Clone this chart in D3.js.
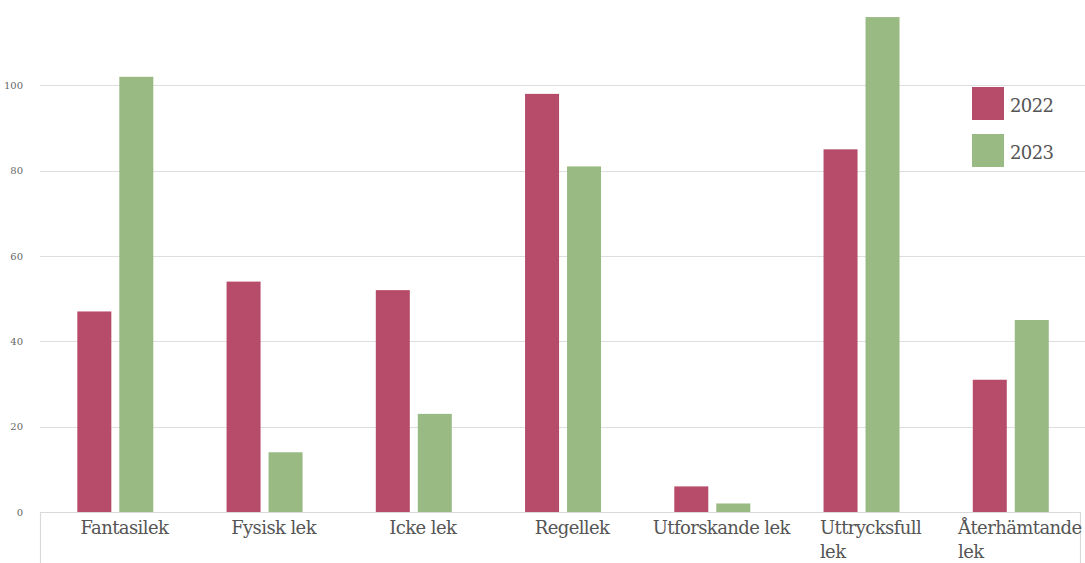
<!DOCTYPE html>
<html>
<head>
<meta charset="utf-8">
<script src="https://cdn.jsdelivr.net/npm/d3@7"></script>
<style>
  html, body { margin: 0; padding: 0; background: #fff; }
  svg { display: block; }
  .serif { font-family: "DejaVu Serif", "Liberation Serif", serif; }
</style>
</head>
<body>
<svg id="chart" width="1085" height="563"></svg>
<script>
// Play categories and counts per year
const categories = ["Fantasilek", "Fysisk lek", "Icke lek", "Regellek", "Utforskande lek", "Uttrycksfull lek", "Återhämtande lek"];
const years = ["2022", "2023"];
const values2022 = [47, 54, 52, 98, 6, 85, 31];
const values2023 = [102, 14, 23, 81, 2, 116, 45];
const yTicks = [0, 20, 40, 60, 80, 100];
const colors = ["#b64c6a", "#9aba84"];

const series = { "2022": values2022, "2023": values2023 };
const rows = categories.map((c, i) => ({ category: c, values: years.map(y => ({ year: y, value: series[y][i] })) }));

const W = 1085, H = 563;
const left = 40.7, right = 1085.4, baseY = 512;
const svg = d3.select("#chart");

const x0 = d3.scaleBand().domain(categories).range([left, right]).paddingInner(0).paddingOuter(0);
const x1 = d3.scaleBand().domain(years).range([x0.bandwidth() / 2 - 38, x0.bandwidth() / 2 + 38]).paddingInner(0.19).paddingOuter(0);
const y = d3.scaleLinear().domain([0, 120]).range([baseY, 0]);
const color = d3.scaleOrdinal().domain(years).range(colors);

// Horizontal gridlines
svg.append("g")
  .selectAll("line")
  .data(yTicks.filter(t => t > 0))
  .join("line")
  .attr("x1", 40).attr("x2", W)
  .attr("y1", d => Math.round(y(d)) + 0.5).attr("y2", d => Math.round(y(d)) + 0.5)
  .attr("stroke", "#dedede").attr("stroke-width", 1.2);

// Y axis tick labels
const yAxis = d3.axisLeft(y).tickValues(yTicks).tickSize(0).tickPadding(0);
const gy = svg.append("g").attr("transform", "translate(23,0)").call(yAxis);
gy.select(".domain").remove();
gy.attr("font-family", null);
gy.selectAll("text")
  .attr("class", "serif")
  .style("font-size", "10px")
  .attr("fill", "#666");

// Bars
const groups = svg.append("g")
  .selectAll("g")
  .data(rows)
  .join("g")
  .attr("transform", d => `translate(${x0(d.category)},0)`);

groups.selectAll("rect")
  .data(d => d.values)
  .join("rect")
  .attr("x", d => x1(d.year))
  .attr("width", x1.bandwidth())
  .attr("y", d => y(d.value))
  .attr("height", d => y(0) - y(d.value))
  .attr("fill", d => color(d.year));

// Category axis frame
const frame = svg.append("g").attr("stroke", "#d9d9d9").attr("stroke-width", 1.2);
frame.append("line").attr("x1", 40).attr("x2", 1081).attr("y1", baseY + 0.5).attr("y2", baseY + 0.5);
frame.append("line").attr("x1", 40.5).attr("x2", 40.5).attr("y1", baseY).attr("y2", H);
frame.append("line").attr("x1", 1080.5).attr("x2", 1080.5).attr("y1", baseY).attr("y2", H);

// Category labels (long ones wrap onto a second, left-aligned line)
const wrapAt = { "Uttrycksfull lek": ["Uttrycksfull", "lek"], "Återhämtande lek": ["Återhämtande", "lek"] };
const labels = svg.append("g")
  .selectAll("text")
  .data(categories)
  .join("text")
  .attr("class", "serif")
  .style("font-size", "18px")
  .style("letter-spacing", "-0.6px")
  .attr("fill", "#555")
  .attr("y", 534);

labels.each(function (c) {
  const t = d3.select(this);
  const cx = x0(c) + x0.bandwidth() / 2 + 9;
  const lines = wrapAt[c] || [c];
  if (lines.length === 1) {
    t.attr("x", cx).attr("text-anchor", "middle").text(c);
  } else {
    t.attr("text-anchor", "start");
    const first = t.append("tspan").text(lines[0]);
    const w = first.node().getComputedTextLength();
    const sx = cx - w / 2;
    first.attr("x", sx);
    t.append("tspan").attr("x", sx).attr("dy", 24).text(lines[1]);
  }
});

// Legend
const legend = svg.append("g")
  .selectAll("g")
  .data(years)
  .join("g")
  .attr("transform", (d, i) => `translate(972,${87 + i * 47})`);
legend.append("rect").attr("width", 32).attr("height", 33).attr("fill", d => color(d));
legend.append("text")
  .attr("x", 38).attr("y", 25)
  .attr("class", "serif")
  .style("font-size", "18px")
  .style("letter-spacing", "-0.6px")
  .attr("fill", "#555")
  .text(d => d);
</script>
</body>
</html>
